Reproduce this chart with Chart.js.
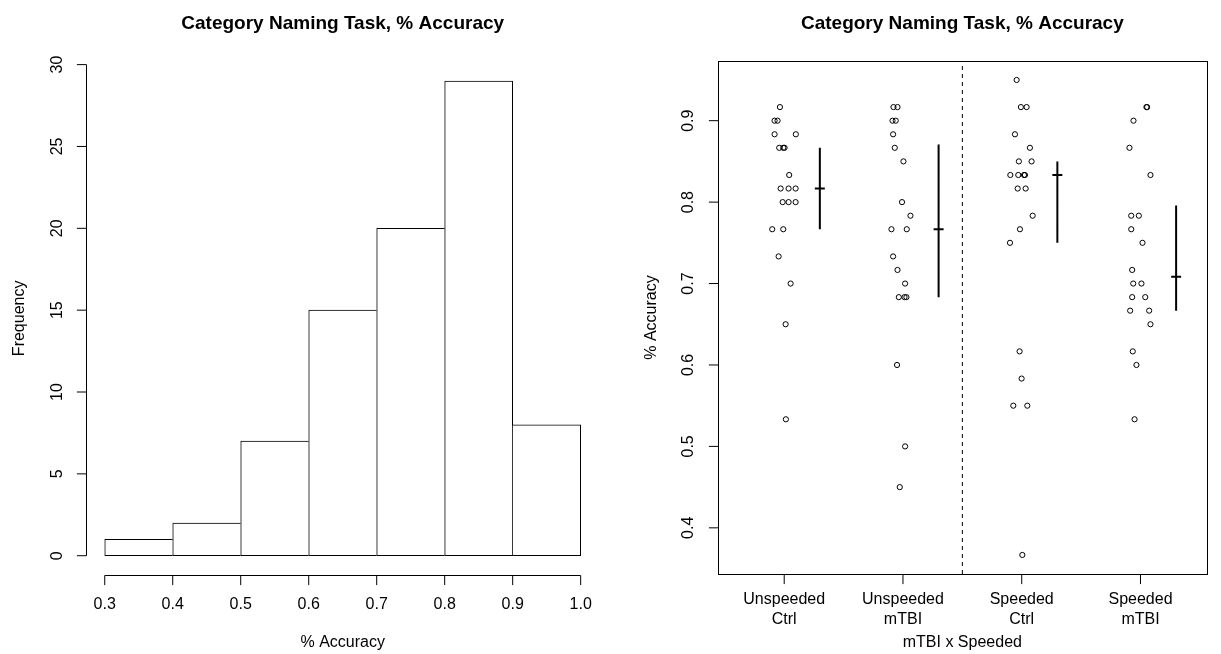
<!DOCTYPE html>
<html><head><meta charset="utf-8">
<script src="https://cdn.jsdelivr.net/npm/chart.js@4.4.1/dist/chart.umd.min.js"></script>
<style>
html,body{margin:0;padding:0;background:#fff;}
#wrap{position:relative;width:1221px;height:654px;overflow:hidden;background:#fff;}
canvas{position:absolute;top:0;}
</style></head><body>
<div id="wrap">
<canvas id="hist" width="610" height="654" style="left:0px"></canvas>
<canvas id="strip" width="611" height="654" style="left:610px"></canvas>
</div>
<script>
// ---------- data ----------
const chartTitle = "Category Naming Task, % Accuracy";

const histBreaks = [0.3, 0.4, 0.5, 0.6, 0.7, 0.8, 0.9, 1.0];
const histCounts = [1, 2, 7, 15, 20, 29, 8];
const histXTicks = [0.3, 0.4, 0.5, 0.6, 0.7, 0.8, 0.9, 1.0];
const histXTickLabels = ["0.3", "0.4", "0.5", "0.6", "0.7", "0.8", "0.9", "1.0"];
const histYTicks = [0, 5, 10, 15, 20, 25, 30];
const histYTickLabels = ["0", "5", "10", "15", "20", "25", "30"];
const histXLabel = "% Accuracy";
const histYLabel = "Frequency";

const groupNames = [["Unspeeded", "Ctrl"], ["Unspeeded", "mTBI"], ["Speeded", "Ctrl"], ["Speeded", "mTBI"]];
const groupPositions = [1, 2, 3, 4];
const stripXLabel = "mTBI x Speeded";
const stripYLabel = "% Accuracy";
const stripYTicks = [0.4, 0.5, 0.6, 0.7, 0.8, 0.9];
const stripYTickLabels = ["0.4", "0.5", "0.6", "0.7", "0.8", "0.9"];

const unspeededCtrl = [0.9167, 0.9, 0.9, 0.8833, 0.8833, 0.8667, 0.8667, 0.8667, 0.8333, 0.8167, 0.8167, 0.8167, 0.8, 0.8, 0.8, 0.7667, 0.7667, 0.7333, 0.7, 0.65, 0.5333];
const unspeededCtrlJitter = [-0.036, -0.081, -0.056, -0.081, 0.098, -0.042, -0.008, 0.003, 0.042, -0.030, 0.037, 0.096, -0.013, 0.037, 0.096, -0.101, -0.008, -0.047, 0.054, 0.012, 0.014];

const unspeededMTBI = [0.9167, 0.9167, 0.9, 0.9, 0.8833, 0.8667, 0.85, 0.8, 0.7833, 0.7667, 0.7667, 0.7333, 0.7167, 0.7, 0.6833, 0.6833, 0.6833, 0.6, 0.5, 0.45];
const unspeededMTBIJitter = [-0.080, -0.046, -0.088, -0.061, -0.083, -0.069, 0.004, -0.008, 0.063, -0.097, 0.032, -0.083, -0.046, 0.018, -0.035, 0.013, 0.029, -0.050, 0.018, -0.027];

const speededCtrl = [0.95, 0.9167, 0.9167, 0.8833, 0.8667, 0.85, 0.85, 0.8333, 0.8333, 0.8333, 0.8333, 0.8167, 0.8167, 0.7833, 0.7667, 0.75, 0.6167, 0.5833, 0.55, 0.55, 0.3667];
const speededCtrlJitter = [-0.043, -0.007, 0.041, -0.057, 0.069, -0.024, 0.083, -0.096, -0.029, 0.019, 0.027, -0.034, 0.033, 0.092, -0.015, -0.099, -0.018, -0.001, -0.071, 0.047, 0.005];

const speededMTBI = [0.9167, 0.9167, 0.9, 0.8667, 0.8333, 0.7833, 0.7833, 0.7667, 0.75, 0.7167, 0.7, 0.7, 0.6833, 0.6833, 0.6667, 0.6667, 0.65, 0.6167, 0.6, 0.5333];
const speededMTBIJitter = [0.050, 0.056, -0.059, -0.093, 0.084, -0.078, -0.014, -0.078, 0.017, -0.070, -0.061, 0.008, -0.070, 0.040, -0.087, 0.073, 0.084, -0.065, -0.034, -0.050];

const groupMedians = [0.8167, 0.7667, 0.8333, 0.7083];
const groupQ1 = [0.7667, 0.6833, 0.75, 0.6667];
const groupQ3 = [0.8667, 0.8708, 0.85, 0.7958];

// ---------- styling / layout constants ----------
const FONT = "'Liberation Sans', Arial, Helvetica, sans-serif";
const SUMMARY_OFFSET = 0.3;     // summary bar drawn right of each strip
const MEDIAN_HALF = 0.042;      // half-width of median tick (x units)
const DIVIDER_X = 2.5;

Chart.defaults.font.family = FONT;
Chart.defaults.animation = false;

// R-style axes drawn with the library scales
const rAxes = {
  id: 'rAxes',
  afterDraw(chart, args, o) {
    const ctx = chart.ctx, ca = chart.chartArea;
    const xs = chart.scales.x, ys = chart.scales.y;
    ctx.save();
    ctx.strokeStyle = '#000'; ctx.fillStyle = '#000'; ctx.lineWidth = 1;
    const TL = 9.6;
    // title
    ctx.font = "bold 19px " + FONT;
    ctx.textAlign = 'center'; ctx.textBaseline = 'middle';
    ctx.fillText(o.title, (ca.left + ca.right) / 2, 23.5);
    ctx.font = "16px " + FONT;
    // box
    if (o.box) ctx.strokeRect(Math.round(ca.left) + 0.5, Math.round(ca.top) + 0.5, Math.round(ca.right - ca.left), Math.round(ca.bottom - ca.top));
    // x axis
    const by = Math.round(ca.bottom) + 0.5;
    const xp = o.xTicks.map(v => xs.getPixelForValue(v));
    ctx.beginPath();
    if (!o.box) { ctx.moveTo(xp[0], by); ctx.lineTo(xp[xp.length - 1], by); }
    xp.forEach(p => { ctx.moveTo(p, by); ctx.lineTo(p, by + TL); });
    ctx.stroke();
    xp.forEach((p, i) => {
      const lab = o.xLabels[i];
      if (Array.isArray(lab)) {
        lab.forEach((s, j) => ctx.fillText(s, p, ca.bottom + o.xLabOff + j * 19.3));
      } else ctx.fillText(lab, p, ca.bottom + o.xLabOff);
    });
    ctx.fillText(o.xTitle, (ca.left + ca.right) / 2, ca.bottom + o.xTitleOff);
    // y axis
    const lx = Math.round(ca.left) + 0.5;
    const yp = o.yTicks.map(v => ys.getPixelForValue(v));
    ctx.beginPath();
    if (!o.box) { ctx.moveTo(lx, yp[0]); ctx.lineTo(lx, yp[yp.length - 1]); }
    yp.forEach(p => { ctx.moveTo(lx, p); ctx.lineTo(lx - TL, p); });
    ctx.stroke();
    yp.forEach((p, i) => {
      ctx.save(); ctx.translate(ca.left - o.yLabOff, p); ctx.rotate(-Math.PI / 2);
      ctx.fillText(o.yLabels[i], 0, 0); ctx.restore();
    });
    ctx.save(); ctx.translate(ca.left - o.yTitleOff, (ca.top + ca.bottom) / 2); ctx.rotate(-Math.PI / 2);
    ctx.fillText(o.yTitle, 0, 0); ctx.restore();
    ctx.restore();
  }
};

// ---------- histogram ----------
const histData = histCounts.map((c, i) => ({ x: (histBreaks[i] + histBreaks[i + 1]) / 2, y: c }));
const lastBar = histCounts.length - 1;
new Chart(document.getElementById('hist'), {
  type: 'bar',
  data: { datasets: [{
    data: histData,
    backgroundColor: '#fff',
    borderColor: '#000',
    borderSkipped: false,
    borderWidth: (c) => {
      const i = c.dataIndex;
      const cur = histCounts[i];
      return {
        top: 1, bottom: 1,
        left: (i === 0 || histCounts[i - 1] <= cur) ? 1 : 0,
        right: (i === lastBar || histCounts[i + 1] < cur) ? 1 : 0
      };
    },
    barPercentage: 1, categoryPercentage: 1
  }] },
  options: {
    responsive: false, animation: false,
    layout: { padding: { left: 85.7, right: 10.3, top: 62, bottom: 79.3 } },
    plugins: { legend: { display: false }, tooltip: { enabled: false },
      rAxes: { title: chartTitle, box: false, xTicks: histXTicks, xLabels: histXTickLabels, xTitle: histXLabel,
        yTicks: histYTicks, yLabels: histYTickLabels, yTitle: histYLabel,
        xLabOff: 29.5, xTitleOff: 68, yLabOff: 28.5, yTitleOff: 66 } },
    scales: {
      x: { type: 'linear', display: false, min: 0.272, max: 1.028, offset: false },
      y: { type: 'linear', display: false, min: -1.16, max: 30.16 }
    }
  },
  plugins: [rAxes]
});

// ---------- strip chart ----------
const groups = [
  [unspeededCtrl, unspeededCtrlJitter],
  [unspeededMTBI, unspeededMTBIJitter],
  [speededCtrl, speededCtrlJitter],
  [speededMTBI, speededMTBIJitter]
];
const pointSets = groups.map(([vals, jit], g) => ({
  type: 'scatter',
  data: vals.map((v, i) => ({ x: groupPositions[g] + jit[i], y: v })),
  pointStyle: 'circle', pointRadius: 2.6, pointBorderWidth: 1,
  pointBorderColor: '#000', pointBackgroundColor: 'rgba(0,0,0,0)', showLine: false
}));
const summaryData = [];
groupPositions.forEach((p, g) => {
  const sx = p + SUMMARY_OFFSET;
  summaryData.push({ x: sx, y: groupQ1[g] }, { x: sx, y: groupQ3[g] }, { x: sx, y: null });
  summaryData.push({ x: sx - MEDIAN_HALF, y: groupMedians[g] }, { x: sx + MEDIAN_HALF, y: groupMedians[g] }, { x: sx, y: null });
});
const yMin = 0.3433, yMax = 0.9733;
new Chart(document.getElementById('strip'), {
  type: 'scatter',
  data: { datasets: [
    ...pointSets,
    { type: 'line', data: summaryData, borderColor: '#000', borderWidth: 2, pointRadius: 0, spanGaps: false, showLine: true, borderCapStyle: 'butt' },
    { type: 'line', data: [{ x: DIVIDER_X, y: yMin }, { x: DIVIDER_X, y: yMax }], borderColor: '#000', borderWidth: 1, borderDash: [4, 4], pointRadius: 0, showLine: true }
  ] },
  options: {
    responsive: false, animation: false,
    layout: { padding: { left: 107.7, right: 14, top: 61, bottom: 80 } },
    plugins: { legend: { display: false }, tooltip: { enabled: false },
      rAxes: { title: chartTitle, box: true, xTicks: groupPositions, xLabels: groupNames, xTitle: stripXLabel,
        yTicks: stripYTicks, yLabels: stripYTickLabels, yTitle: stripYLabel,
        xLabOff: 26, xTitleOff: 68.7, yLabOff: 28.7, yTitleOff: 66 } },
    scales: {
      x: { type: 'linear', display: false, min: 0.44, max: 4.56 },
      y: { type: 'linear', display: false, min: yMin, max: yMax }
    }
  },
  plugins: [rAxes]
});
</script>
</body></html>
